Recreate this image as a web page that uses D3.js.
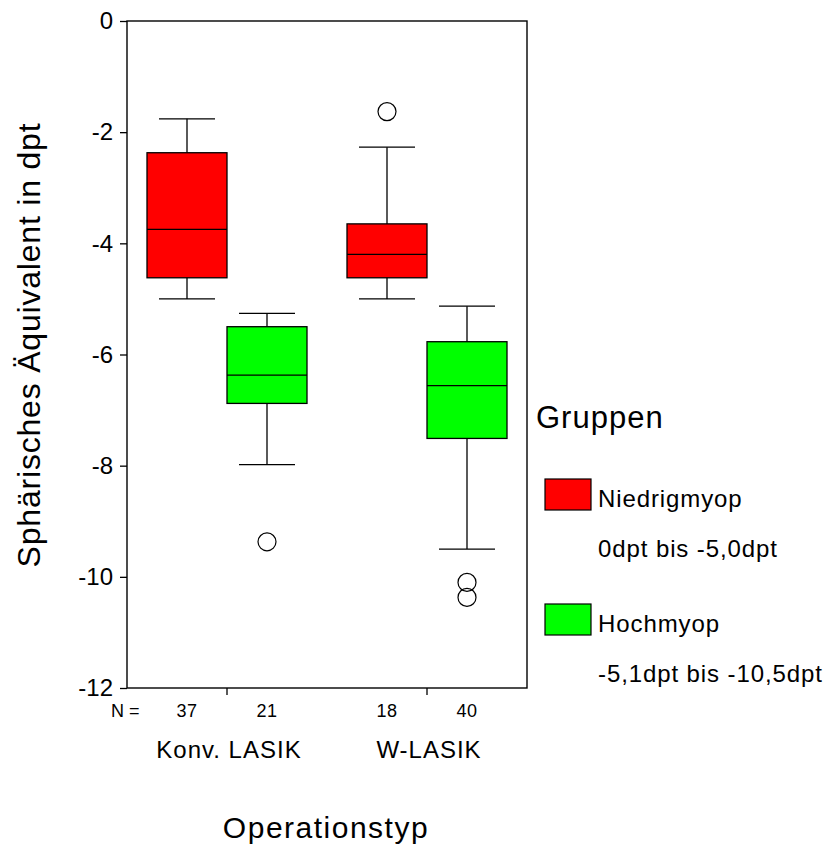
<!DOCTYPE html>
<html lang="de">
<head>
<meta charset="UTF-8">
<title>Sphärisches Äquivalent nach Operationstyp</title>
<script src="https://d3js.org/d3.v7.min.js"></script>
<style>
  body { margin: 0; background: #fff; }
  text { font-family: "Liberation Sans", Arial, sans-serif; fill: #000; }
</style>
</head>
<body>
<script>
// categories and series
var groups = ["Konv. LASIK", "W-LASIK"];
var subgroups = ["Niedrigmyop", "Hochmyop"];
var subgroupRanges = ["0dpt bis -5,0dpt", "-5,1dpt bis -10,5dpt"];
var colors = ["#ff0000", "#00ff00"];

// one entry per box: Konv/Niedrig, Konv/Hoch, W/Niedrig, W/Hoch
var counts      = [37, 21, 18, 40];
var whiskerHigh = [-1.76, -5.26, -2.27, -5.13];
var q3          = [-2.37, -5.50, -3.65, -5.77];
var median      = [-3.75, -6.37, -4.20, -6.56];
var q1          = [-4.62, -6.88, -4.62, -7.51];
var whiskerLow  = [-5.00, -7.98, -5.00, -9.50];
var outliers    = [[], [-9.37], [-1.63], [-10.10, -10.37]];

var yTicks = [0, -2, -4, -6, -8, -10, -12];

var width = 830, height = 850;
var plotL = 127, plotR = 527, plotT = 21, plotB = 688;

var svg = d3.select("body").append("svg")
    .attr("width", width)
    .attr("height", height);

var y = d3.scaleLinear().domain([-12, 0]).range([plotB, plotT]);
var x0 = d3.scaleBand().domain(groups).range([plotL, plotR]);
var x1 = d3.scaleBand().domain(subgroups).range([20, 180]);

// build box table from the arrays
var boxes = [];
groups.forEach(function(g, gi) {
    subgroups.forEach(function(s, si) {
        var i = gi * 2 + si;
        boxes.push({
            group: g, sub: s, color: colors[si], n: counts[i],
            hi: whiskerHigh[i], q3: q3[i], med: median[i], q1: q1[i], lo: whiskerLow[i],
            out: outliers[i]
        });
    });
});

function bx(d) { return x0(d.group) + x1(d.sub); }
function cx(d) { return bx(d) + x1.bandwidth() / 2; }
var bw = x1.bandwidth();
var capHalf = bw * 0.35;

// y axis
var yAxis = svg.append("g")
    .attr("transform", "translate(" + plotL + ",0)")
    .call(d3.axisLeft(y).tickValues(yTicks).tickSize(7).tickSizeOuter(0).tickPadding(7)
        .tickFormat(function(d) { return String(d); }));
yAxis.select(".domain").remove();
yAxis.selectAll(".tick line").attr("stroke", "#000").attr("stroke-width", 1.3);
yAxis.selectAll(".tick text")
    .style("font-family", '"Liberation Sans", Arial, sans-serif')
    .style("font-size", "24px")
    .attr("fill", "#000");

// x axis ticks
var xAxis = svg.append("g")
    .attr("transform", "translate(0," + plotB + ")")
    .call(d3.axisBottom(x0).tickSize(7).tickSizeOuter(0).tickFormat(""));
xAxis.select(".domain").remove();
xAxis.selectAll(".tick line").attr("stroke", "#000").attr("stroke-width", 1.3);

// frame
svg.append("rect")
    .attr("x", plotL).attr("y", plotT)
    .attr("width", plotR - plotL).attr("height", plotB - plotT)
    .attr("fill", "none").attr("stroke", "#000").attr("stroke-width", 1.4);

var bg = svg.selectAll("g.box").data(boxes).enter().append("g").attr("class", "box");

// whiskers
bg.append("line")
    .attr("x1", cx).attr("x2", cx)
    .attr("y1", function(d) { return y(d.hi); })
    .attr("y2", function(d) { return y(d.q3); })
    .attr("stroke", "#000").attr("stroke-width", 1.3);
bg.append("line")
    .attr("x1", cx).attr("x2", cx)
    .attr("y1", function(d) { return y(d.q1); })
    .attr("y2", function(d) { return y(d.lo); })
    .attr("stroke", "#000").attr("stroke-width", 1.3);
bg.append("line")
    .attr("x1", function(d) { return cx(d) - capHalf; })
    .attr("x2", function(d) { return cx(d) + capHalf; })
    .attr("y1", function(d) { return y(d.hi); })
    .attr("y2", function(d) { return y(d.hi); })
    .attr("stroke", "#000").attr("stroke-width", 1.3);
bg.append("line")
    .attr("x1", function(d) { return cx(d) - capHalf; })
    .attr("x2", function(d) { return cx(d) + capHalf; })
    .attr("y1", function(d) { return y(d.lo); })
    .attr("y2", function(d) { return y(d.lo); })
    .attr("stroke", "#000").attr("stroke-width", 1.3);

// boxes
bg.append("rect")
    .attr("x", bx)
    .attr("y", function(d) { return y(d.q3); })
    .attr("width", bw)
    .attr("height", function(d) { return y(d.q1) - y(d.q3); })
    .attr("fill", function(d) { return d.color; })
    .attr("stroke", "#000").attr("stroke-width", 1.3);

// faint diagonal inside box (as in the original rendering)
bg.append("line")
    .attr("x1", function(d) { return bx(d) + 1; })
    .attr("y1", function(d) { return y(d.q3) + 1; })
    .attr("x2", function(d) { return bx(d) + bw - 1; })
    .attr("y2", function(d) { return y(d.q1) - 1; })
    .attr("stroke", function(d) { return d3.color(d.color).brighter(0.6); })
    .attr("stroke-width", 0.6);

// median
bg.append("line")
    .attr("x1", bx)
    .attr("x2", function(d) { return bx(d) + bw; })
    .attr("y1", function(d) { return y(d.med); })
    .attr("y2", function(d) { return y(d.med); })
    .attr("stroke", "#000").attr("stroke-width", 1.3);

// outliers
bg.selectAll("circle").data(function(d) { return d.out.map(function(v) { return { v: v, c: cx(d) }; }); })
    .enter().append("circle")
    .attr("cx", function(d) { return d.c; })
    .attr("cy", function(d) { return y(d.v); })
    .attr("r", 9)
    .attr("fill", "none")
    .attr("stroke", "#000").attr("stroke-width", 1.2);

// N labels
svg.append("text").attr("x", 111).attr("y", 717)
    .style("font-size", "18px").text("N =");
bg.append("text")
    .attr("x", cx).attr("y", 717)
    .attr("text-anchor", "middle")
    .style("font-size", "18px")
    .style("letter-spacing", "0.5px")
    .text(function(d) { return d.n; });

// group labels
svg.selectAll("text.grp").data(groups).enter().append("text")
    .attr("class", "grp")
    .attr("x", function(d) { return x0(d) + x0.bandwidth() / 2 + 2; })
    .attr("y", 758)
    .attr("text-anchor", "middle")
    .style("font-size", "24px")
    .style("letter-spacing", "1px")
    .text(function(d) { return d; });

// axis titles
svg.append("text")
    .attr("x", 326).attr("y", 838)
    .attr("text-anchor", "middle")
    .style("font-size", "30px")
    .style("letter-spacing", "1.5px")
    .text("Operationstyp");

svg.append("text")
    .attr("transform", "translate(40,345) rotate(-90)")
    .attr("text-anchor", "middle")
    .style("font-size", "32px")
    .style("letter-spacing", "0.8px")
    .text("Sphärisches Äquivalent in dpt");

// legend
svg.append("text")
    .attr("x", 536).attr("y", 428)
    .style("font-size", "31px")
    .style("letter-spacing", "1px")
    .text("Gruppen");

var lg = svg.selectAll("g.leg").data(subgroups).enter().append("g")
    .attr("class", "leg")
    .attr("transform", function(d, i) { return "translate(545," + (479 + i * 125) + ")"; });
lg.append("rect")
    .attr("width", 46).attr("height", 31)
    .attr("fill", function(d, i) { return colors[i]; })
    .attr("stroke", "#000").attr("stroke-width", 1.2);
lg.append("line")
    .attr("x1", 1).attr("y1", 1).attr("x2", 45).attr("y2", 30)
    .attr("stroke", function(d, i) { return d3.color(colors[i]).brighter(0.6); })
    .attr("stroke-width", 0.6);
lg.append("text")
    .attr("x", 53).attr("y", 28)
    .style("font-size", "24px")
    .style("letter-spacing", "0.9px")
    .text(function(d) { return d; });
lg.append("text")
    .attr("x", 53).attr("y", 78)
    .style("font-size", "24px")
    .style("letter-spacing", "0.9px")
    .text(function(d, i) { return subgroupRanges[i]; });
</script>
</body>
</html>
